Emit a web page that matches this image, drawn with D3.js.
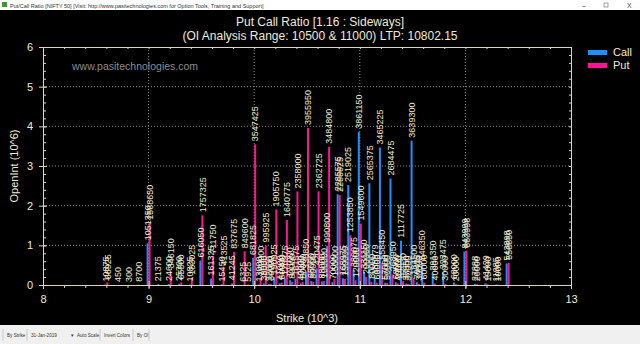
<!DOCTYPE html>
<html><head><meta charset="utf-8">
<script src="https://cdn.jsdelivr.net/npm/d3@7"></script>
<style>body{margin:0;background:#000;overflow:hidden}svg{display:block}</style>
</head><body><svg id="c" width="640" height="344"></svg>
<script>
// ---- data (strike in points, open interest in contracts) ----
const strikes = [8600,8700,8800,8900,9000,9100,9200,9300,9400,9500,9600,9700,9800,9900,9950,
  10000,10050,10100,10150,10200,10250,10300,10350,10400,10450,10500,10550,10600,10650,10700,10750,10800,10850,10900,10950,
  11000,11050,11100,11150,11200,11250,11300,11350,11400,11450,11500,11550,11600,11700,11800,11900,12000,12100,12200,12300,12400];
const callOI = [10875,0,0,0,1051350,21375,24600,25300,10825,616050,161325,15450,41245,6325,5925,
  681825,13000,38000,22000,190925,41000,170975,121000,161575,40000,330850,98000,420475,88000,990800,70000,2285575,168975,2519025,380075,
  3861150,331150,2565375,186979,3465225,57000,2684475,68000,1117725,37950,3639300,70425,546350,291350,323475,68000,843999,27888,41429,11985,543898];
const putOI = [66925,450,300,8700,1568650,0,346150,65500,183025,1757325,711750,413525,837675,849600,0,
  3547425,160000,995925,30000,1905750,60000,1640775,80000,2358000,80000,3955950,80000,2362725,100000,3484800,150000,2266625,150000,1253850,120000,
  1549600,200000,80000,60000,558450,50000,268950,40000,97930,30000,184500,30000,60000,40000,30000,20000,863998,20000,15000,10000,558850];
const xTickValues = [8,9,10,11,12,13];
const yTickValues = [0,1,2,3,4,5,6];
const seriesNames = ["Call","Put"];
const titleLines = ["Put Call Ratio [1.16 : Sideways]","(OI Analysis Range: 10500 & 11000) LTP: 10802.15"];

const svg = d3.select("#c");
const W = 640, H = 344;
const FONT = "'Liberation Sans', Arial, sans-serif";
const TXT = "#f2ecd4", AXC = "#ddd6bf", CALL = "#1e8fff", PUT = "#ff1493";

// window chrome
svg.append("rect").attr("x",0).attr("y",0).attr("width",W).attr("height",H).attr("fill","#000");
svg.append("rect").attr("x",0).attr("y",0).attr("width",W).attr("height",10).attr("fill","#fff");
svg.append("rect").attr("x",2).attr("y",2).attr("width",5).attr("height",5).attr("fill","#3a9a3a");
svg.append("text").attr("x",10).attr("y",7.5).attr("font-family",FONT).attr("font-size",5.5).attr("fill","#333")
  .text("Put/Call Ratio [NIFTY 50]    [Visit: http://www.pasitechnologies.com for Option Tools, Training and Support]");
svg.append("text").attr("x",582).attr("y",7.5).attr("font-family",FONT).attr("font-size",7).attr("fill","#444").text("–");
svg.append("rect").attr("x",604).attr("y",3).attr("width",4).attr("height",4).attr("fill","none").attr("stroke","#666").attr("stroke-width",0.6);
svg.append("text").attr("x",627).attr("y",7.5).attr("font-family",FONT).attr("font-size",7).attr("fill","#444").text("X");
svg.append("rect").attr("x",0).attr("y",325).attr("width",W).attr("height",19).attr("fill","#f0f0f0");
const tb = [["By Strike",7],["31-Jan-2019",31],["▾",71],["Auto Scale",77],["Invert Colors",104],["By OI",137]];
tb.forEach(([t,x])=>svg.append("text").attr("x",x).attr("y",337).attr("font-family",FONT).attr("font-size",4.6).attr("fill","#333").text(t));
[3,27,100,133,149].forEach(x=>svg.append("line").attr("x1",x).attr("x2",x).attr("y1",329).attr("y2",341).attr("stroke","#c8c8c8"));

// scales
const x = d3.scaleLinear().domain([8,13]).range([43,571]);
const y = d3.scaleLinear().domain([0,6]).range([285,47]);

// grid
const g = svg.append("g");
g.selectAll(".gx").data(xTickValues.slice(1,-1)).join("line")
  .attr("x1",d=>x(d)).attr("x2",d=>x(d)).attr("y1",y(6)).attr("y2",y(0))
  .attr("stroke","#8a8a8a").attr("stroke-dasharray","1,2");
g.selectAll(".gy").data(yTickValues.slice(1,-1)).join("line")
  .attr("x1",x(8)).attr("x2",x(13)).attr("y1",d=>y(d)).attr("y2",d=>y(d))
  .attr("stroke","#8a8a8a").attr("stroke-dasharray","1,2");

// watermark
svg.append("text").attr("x",72).attr("y",70).attr("font-family",FONT).attr("font-size",10.5).attr("fill","#8c8c8c").text("www.pasitechnologies.com");

// bars
const data = strikes.map((s,i)=>({k:s/1000,c:callOI[i]/1e6,p:putOI[i]/1e6,cv:callOI[i],pv:putOI[i]}));
const bw = 2;
svg.append("g").selectAll("rect").data(data.filter(d=>d.cv>0)).join("rect")
  .attr("x",d=>x(d.k)-bw).attr("width",bw).attr("y",d=>y(d.c)).attr("height",d=>y(0)-y(d.c)).attr("fill",CALL);
svg.append("g").selectAll("rect").data(data.filter(d=>d.pv>0)).join("rect")
  .attr("x",d=>x(d.k)).attr("width",bw).attr("y",d=>y(d.p)).attr("height",d=>y(0)-y(d.p)).attr("fill",PUT);

// axes
function styleAxis(sel){ sel.selectAll("path,line").attr("stroke",AXC); sel.selectAll("text").attr("fill",TXT).attr("font-family",FONT).attr("font-size",11); }
const minorX = d3.range(8,13.001,0.2).map(v=>+v.toFixed(1));
const minorY = d3.range(0,6.001,0.2).map(v=>+v.toFixed(1));
svg.append("g").attr("transform",`translate(0,${y(0)})`).call(d3.axisBottom(x).tickValues(xTickValues).tickSize(4).tickPadding(6).tickFormat(d3.format("d"))).call(styleAxis);
svg.append("g").attr("transform",`translate(0,${y(0)})`).call(d3.axisTop(x).tickValues(xTickValues).tickSize(4).tickFormat("")).call(styleAxis);
svg.append("g").attr("transform",`translate(0,${y(0)})`).call(d3.axisBottom(x).tickValues(minorX).tickSize(3).tickFormat("")).call(styleAxis);
svg.append("g").attr("transform",`translate(${x(8)},0)`).call(d3.axisLeft(y).tickValues(yTickValues).tickSize(4).tickPadding(6).tickFormat(d3.format("d"))).call(styleAxis);
svg.append("g").attr("transform",`translate(${x(8)},0)`).call(d3.axisRight(y).tickValues(yTickValues).tickSize(4).tickFormat("")).call(styleAxis);
svg.append("g").attr("transform",`translate(${x(8)},0)`).call(d3.axisRight(y).tickValues(minorY).tickSize(3).tickFormat("")).call(styleAxis);
svg.append("g").attr("transform",`translate(0,${y(6)})`).call(d3.axisBottom(x).tickValues(minorX).tickSize(2).tickFormat("")).call(styleAxis);
svg.append("g").attr("transform",`translate(${x(13)},0)`).call(d3.axisLeft(y).tickValues(minorY).tickSize(2).tickFormat("")).call(styleAxis);

// bar labels
const lab = svg.append("g").attr("font-family",FONT).attr("font-size",9).attr("fill",TXT);
data.filter(d=>d.cv>0).forEach(d=>{
  lab.append("text").attr("transform",`translate(${x(d.k)-1},${y(d.c)-3}) rotate(-90)`).attr("dy","0.35em").text(d.cv);
});
data.filter(d=>d.pv>0).forEach(d=>{
  lab.append("text").attr("transform",`translate(${x(d.k)+1},${y(d.p)-3}) rotate(-90)`).attr("dy","0.35em").text(d.pv);
});

// titles
svg.append("text").attr("x",320).attr("y",26).attr("text-anchor","middle").attr("font-family",FONT).attr("font-size",12).attr("fill",TXT).text(titleLines[0]);
svg.append("text").attr("x",320).attr("y",40).attr("text-anchor","middle").attr("font-family",FONT).attr("font-size",12).attr("fill",TXT).text(titleLines[1]);
svg.append("text").attr("x",307).attr("y",322).attr("text-anchor","middle").attr("font-family",FONT).attr("font-size",11).attr("fill",TXT).text("Strike (10^3)");
svg.append("text").attr("transform",`translate(18,166) rotate(-90)`).attr("text-anchor","middle").attr("font-family",FONT).attr("font-size",11).attr("fill",TXT).text("OpenInt (10^6)");

// legend
seriesNames.forEach((n,i)=>{
  svg.append("rect").attr("x",588).attr("y",50+i*13).attr("width",19).attr("height",5).attr("fill",i?PUT:CALL);
  svg.append("text").attr("x",613).attr("y",56+i*13).attr("font-family",FONT).attr("font-size",11).attr("fill",TXT).text(n);
});
</script></body></html>
